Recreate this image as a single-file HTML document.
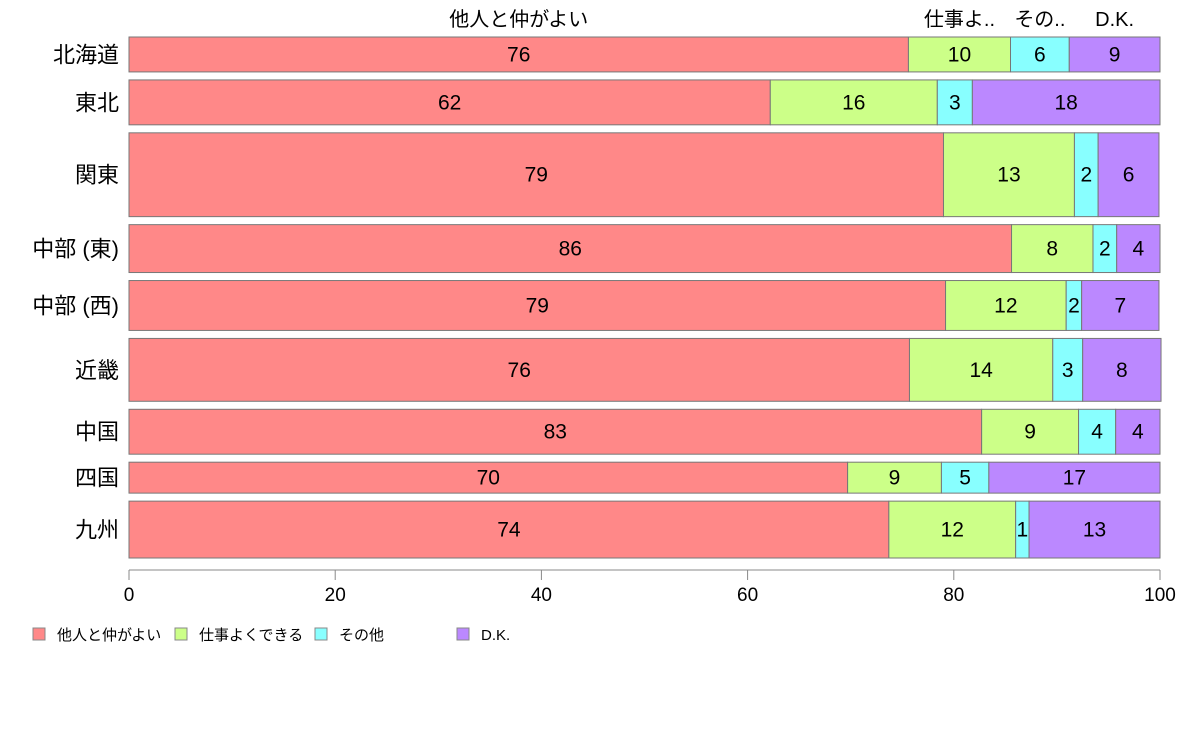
<!DOCTYPE html>
<html><head><meta charset="utf-8">
<style>
body{margin:0;background:#fff;font-family:"Liberation Sans","Noto Sans CJK JP",sans-serif;}
svg text{font-family:"Liberation Sans","Noto Sans CJK JP",sans-serif;}
</style></head>
<body>
<svg id="chart" width="1188" height="736" xmlns="http://www.w3.org/2000/svg"></svg>
<script>
const regions = ["北海道","東北","関東","中部 (東)","中部 (西)","近畿","中国","四国","九州"];
const weights = [35,45,84,48,50,63,45,31,57];
const seriesNames = ["他人と仲がよい","仕事よくできる","その他","D.K."];
const topLabels = ["他人と仲がよい","仕事よ..","その..","D.K."];
const s1 = [75.6,62.2,79.0,85.6,79.2,75.7,82.7,69.7,73.7];
const s2 = [9.9,16.2,12.7,7.9,11.7,13.9,9.4,9.1,12.3];
const s3 = [5.7,3.4,2.3,2.3,1.5,2.9,3.6,4.6,1.3];
const s4 = [8.8,18.2,5.9,4.2,7.5,7.6,4.3,16.6,12.7];
const printed1 = [76,62,79,86,79,76,83,70,74];
const printed2 = [10,16,13,8,12,14,9,9,12];
const printed3 = [6,3,2,2,2,3,4,5,1];
const printed4 = [9,18,6,4,7,8,4,17,13];
const xTicks = [0,20,40,60,80,100];
const colors = ["#ff8888","#ccff88","#88ffff","#bb88ff"];

const svg = document.getElementById('chart');
const NS = "http://www.w3.org/2000/svg";
const x0 = 129, x1 = 1160, yTop = 37, yBot = 558, gap = 8;
const xs = v => x0 + (x1 - x0) * v / 100;
const totalW = weights.reduce((a,b)=>a+b,0);
const unitH = (yBot - yTop - gap*(weights.length-1)) / totalW;
function mk(tag, attrs, parent){const e=document.createElementNS(NS,tag);for(const k in attrs)e.setAttribute(k,attrs[k]);(parent||svg).appendChild(e);return e;}
const series = [s1,s2,s3,s4];
const printed = [printed1,printed2,printed3,printed4];
let y = yTop;
regions.forEach((r,i)=>{
  const h = weights[i]*unitH;
  const g = mk('g',{});
  
  
  let acc = 0;
  series.forEach((s,j)=>{
    const a = xs(acc), b = xs(acc + s[i]);
    const rect = mk('rect',{x:a,y:y,width:b-a,height:h,fill:colors[j],stroke:"#777","stroke-width":1},g);
    
    
    const t = mk('text',{x:(a+b)/2,y:y+h/2+7,"text-anchor":"middle","font-size":21,fill:"#000"},g);
    
    
    t.textContent = printed[j][i];
    if(i===0){
      const tl = mk('text',{x:(a+b)/2,y:26,"text-anchor":"middle","font-size":20,fill:"#000"});
      
      
      tl.textContent = topLabels[j];
    }
    acc += s[i];
  });
  const lab = mk('text',{x:119,y:y+h/2+8,"text-anchor":"end","font-size":22,fill:"#000"});
  
  
  lab.textContent = r;
  y += h + gap;
});
const ax = mk('line',{x1:x0,x2:x1,y1:570,y2:570,stroke:"#888"});


xTicks.forEach(v=>{
  const tk = mk('line',{x1:xs(v),x2:xs(v),y1:570,y2:580,stroke:"#888"});
  
  
  const tt = mk('text',{x:xs(v),y:601,"text-anchor":"middle","font-size":19,fill:"#000"});
  
  
  tt.textContent = v;
});
const legX = [33,175,315,457];
seriesNames.forEach((n,j)=>{
  const g = mk('g',{});
  
  
  mk('rect',{x:legX[j],y:628,width:12,height:12,fill:colors[j],stroke:"#888"},g);
  const t = mk('text',{x:legX[j]+24,y:640,"font-size":15,fill:"#000"},g);
  t.textContent = n;
});
</script>
</body></html>
